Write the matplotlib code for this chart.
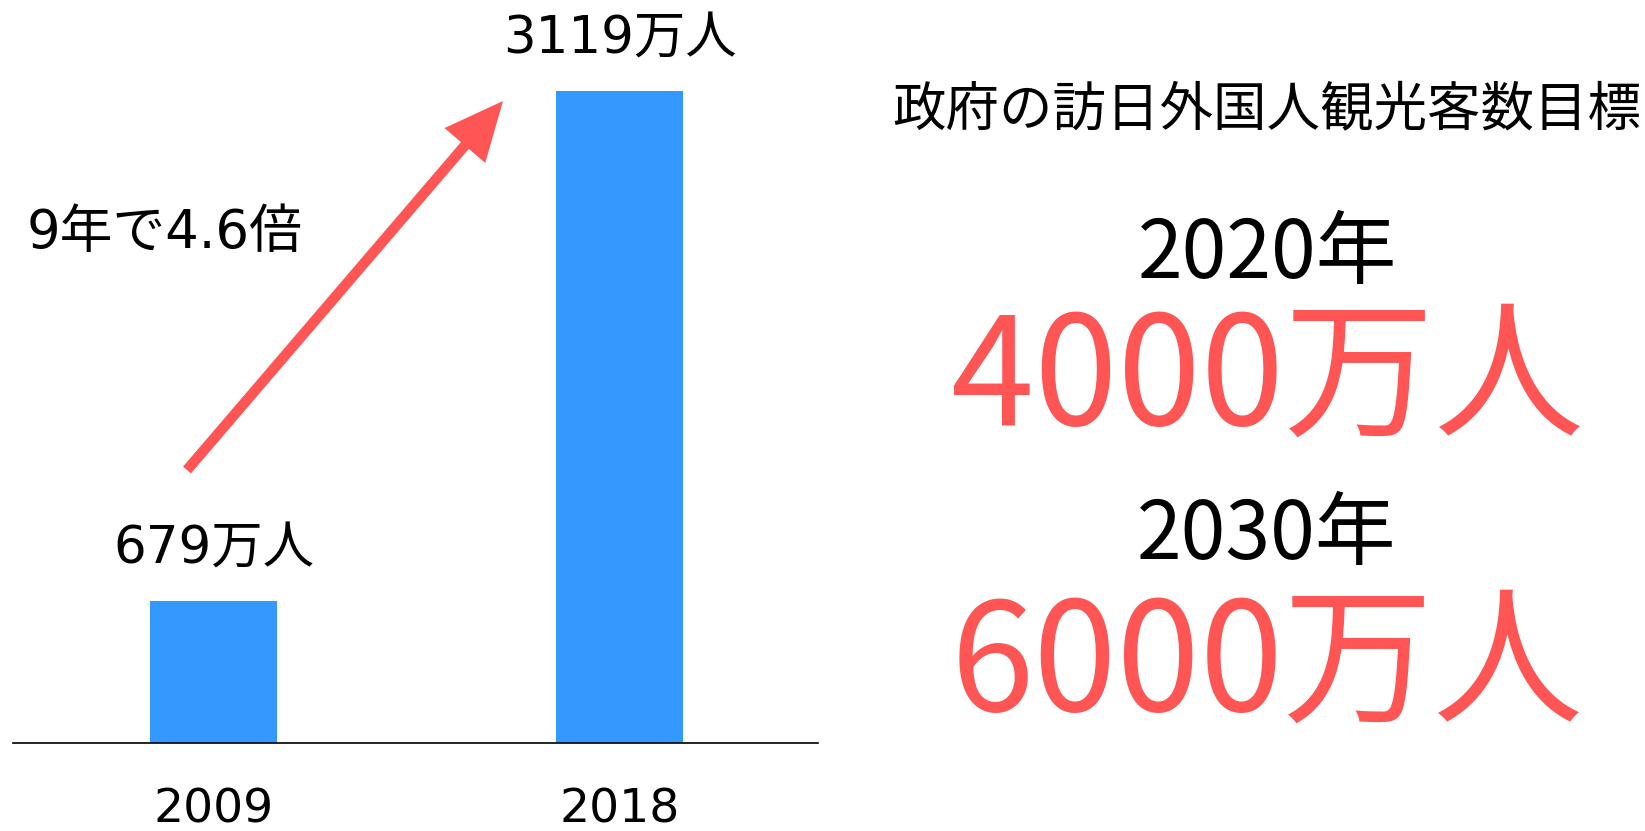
import matplotlib
matplotlib.use('Agg')
import matplotlib.pyplot as plt

# data
years = ['2009', '2018']
visitors = [679, 3119]          # 万人
bar_labels = ['679万人', '3119万人']
growth_label = '9年で4.6倍'
goal_title = '政府の訪日外国人観光客数目標'
goal_years = ['2020年', '2030年']
goal_values = ['4000万人', '6000万人']

blue = '#3399ff'
red = '#ff5555'
left_font = ['DejaVu Sans', 'Noto Sans CJK JP']
right_font = ['Noto Sans CJK JP', 'DejaVu Sans']

my_dpi = 100
fig = plt.figure(figsize=(1645 / my_dpi, 831 / my_dpi), dpi=my_dpi)
ax = fig.add_axes([13 / 1645, 88 / 831, 805 / 1645, 731.6 / 831])

x = list(range(len(years)))
ax.bar(x, visitors, width=0.313, color=blue)
ax.set_xlim(-0.494, 1.489)
ax.set_ylim(0, 3500)

for side in ['top', 'right', 'left']:
    ax.spines[side].set_visible(False)
ax.spines['bottom'].set_linewidth(1.2)
ax.set_yticks([])
ax.set_xticks(x)
ax.set_xticklabels(years, family=left_font, fontsize=34)
ax.tick_params(axis='x', length=0, pad=32)

for i, v in enumerate(visitors):
    ax.annotate(bar_labels[i], xy=(i, v), xytext=(0, 37), textcoords='offset points',
                ha='center', va='center', fontsize=37, family=left_font)

fig.text(27 / 1645, 1 - 233 / 831, growth_label, ha='left', va='center',
         fontsize=38, family=left_font)

# growth arrow
ax.annotate('', xy=(503 / 1645, 1 - 101 / 831), xytext=(187 / 1645, 1 - 470 / 831),
            xycoords='figure fraction', textcoords='figure fraction',
            arrowprops=dict(arrowstyle='-|>,head_length=0.7,head_width=0.32',
                            lw=7.5, color=red, mutation_scale=42,
                            shrinkA=0, shrinkB=0,
                            capstyle='butt', joinstyle='miter'))

# goals on the right
cx = 1267 / 1645
fig.text(cx, 1 - 126 / 831, goal_title, ha='center', va='baseline',
         fontsize=38.5, family=right_font)
year_base = [278, 559]
value_base = [425, 711]
for i in range(len(goal_years)):
    fig.text(cx, 1 - year_base[i] / 831, goal_years[i], ha='center', va='baseline',
             fontsize=58, family=right_font)
    fig.text(cx, 1 - value_base[i] / 831, goal_values[i], ha='center', va='baseline',
             fontsize=108, family=right_font, color=red)

plt.savefig('out.png', dpi=my_dpi)
